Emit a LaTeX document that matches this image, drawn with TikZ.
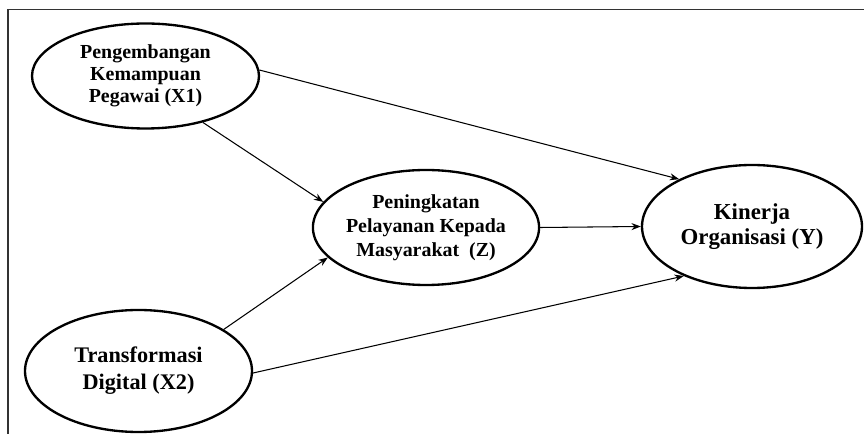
\documentclass[tikz,border=0pt]{standalone}
\usepackage{fontspec}
\setmainfont{Liberation Serif}
\usepackage{tikz}
\usetikzlibrary{shapes.geometric, arrows.meta}
\tikzstyle{varnode} = [ellipse,
line width=2pt,
draw=black,
fill=white,
inner sep=0pt,
align=center,
font=\bfseries]
\tikzstyle{arrow} = [line width=0.9pt,-{Stealth[length=8pt,width=6pt]}]
\tikzstyle{frame} = [line width=1.1pt, draw=black!80]

\begin{document}
\begin{tikzpicture}
    \useasboundingbox (0,0) rectangle (25.92,13.02);

    % Frame (left and top only)
    \draw [frame] (0.24,0) -- (0.24,12.735) -- (25.92,12.735);

    \node (x1) [varnode, minimum width=6.81cm, minimum height=3.15cm,
        font=\bfseries\fontsize{17}{19}\selectfont] at (4.365,10.74)
        {Pengembangan\\Kemampuan\\Pegawai (X1)};
    \node (x2) [varnode, minimum width=6.81cm, minimum height=3.66cm,
        font=\bfseries\fontsize{19}{23}\selectfont] at (4.155,1.89)
        {Transformasi\\Digital (X2)};
    \node (z) [varnode, minimum width=6.78cm, minimum height=3.45cm,
        font=\bfseries\fontsize{17}{20.4}\selectfont] at (12.78,6.195)
        {Peningkatan\\Pelayanan Kepada\\Masyarakat~~(Z)};
    \node (y) [varnode, minimum width=6.6cm, minimum height=3.69cm,
        font=\bfseries\fontsize{19.5}{21}\selectfont] at (22.56,6.225)
        {Kinerja\\Organisasi (Y)};

    % Paths to Z
    \draw [arrow] (x1.-39) -- (z.166);
    \draw [arrow] (x2.26) -- (z.-163);

    % Paths to Y
    \draw [arrow] (x1.3) -- (y.147);
    \draw [arrow] (z.east) -- (y.west);
    \draw [arrow] (x2.-1) -- (y.216);
\end{tikzpicture}
\end{document}
